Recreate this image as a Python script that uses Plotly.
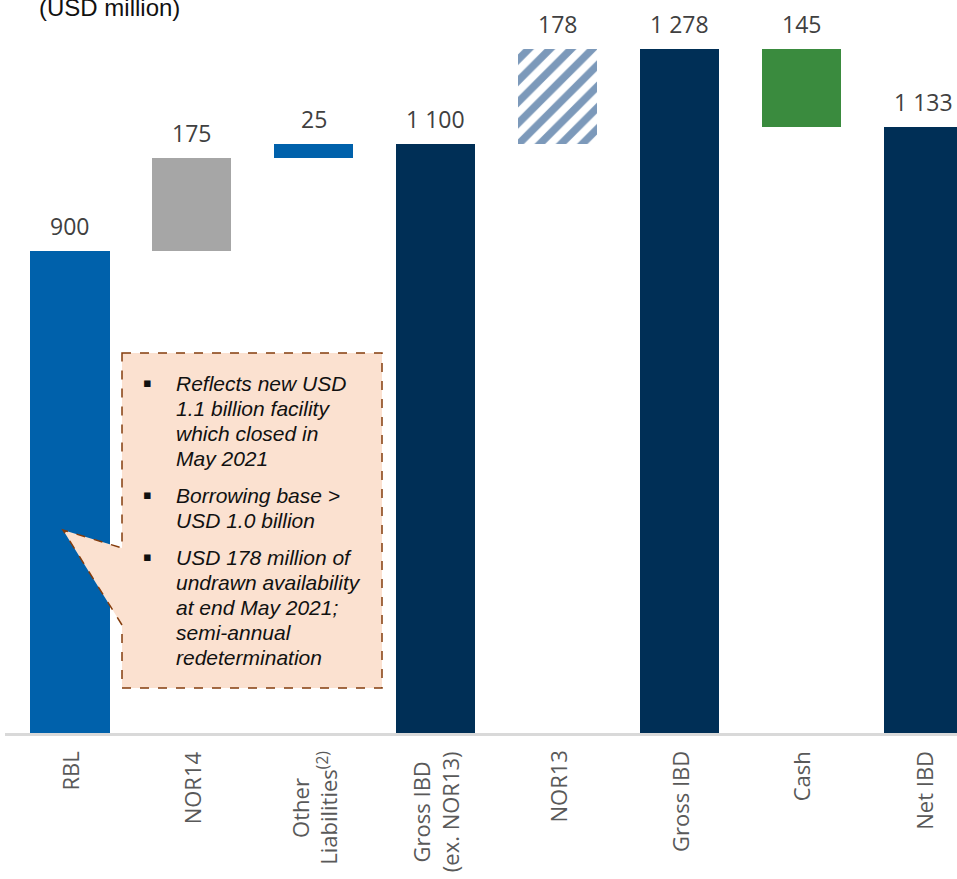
import plotly.graph_objects as go

# Bridge from RBL to net interest-bearing debt (USD million)
categories = ["RBL", "NOR14", "Other<br>Liabilities<sup>(2)</sup>", "Gross IBD<br>(ex. NOR13)",
              "NOR13", "Gross IBD", "Cash", "Net IBD"]
values = [900, 175, 25, 1100, 178, 1278, 145, 1133]
steps = ["total", "up", "up", "total", "up", "total", "down", "total"]
colors = ["#0061AB", "#A6A6A6", "#0061AB", "#002F56", "#7C99BA", "#002F56", "#3A8B3E", "#002F56"]
hatched = [False, False, False, False, True, False, False, False]

callout_lines = [
    ["Reflects new USD", "1.1 billion facility", "which closed in", "May 2021"],
    ["Borrowing base >", "USD 1.0 billion"],
    ["USD 178 million of", "undrawn availability", "at end May 2021;", "semi-annual", "redetermination"],
]

W, H = 957, 879
ML, MR, MT, MB = 5, 0, 0, 146
X0, X1 = -0.533, 7.277
Y0, Y1 = 0, 1370
PW, PH = W - ML - MR, H - MT - MB


def px_to_x(px):
    return X0 + (px - ML) / PW * (X1 - X0)


def py_to_y(py):
    return Y0 + (H - MB - py) / PH * (Y1 - Y0)


# floating bases for the waterfall steps
bases, running = [], 0
for v, s in zip(values, steps):
    if s == "total":
        bases.append(0)
        running = v
    elif s == "up":
        bases.append(running)
        running += v
    else:
        running -= v
        bases.append(running)

xs = list(range(len(categories)))
solid = [i for i in xs if not hatched[i]]
striped = [i for i in xs if hatched[i]]

fig = go.Figure()
fig.add_trace(go.Bar(
    x=[xs[i] for i in solid], y=[values[i] for i in solid], base=[bases[i] for i in solid],
    width=0.65, marker=dict(color=[colors[i] for i in solid], line=dict(width=0)),
    hoverinfo="skip", showlegend=False,
))
fig.add_trace(go.Bar(
    x=[xs[i] for i in striped], y=[values[i] for i in striped], base=[bases[i] for i in striped],
    width=0.65,
    marker=dict(color="#FFFFFF", line=dict(width=0),
                pattern=dict(shape="/", fgcolor=colors[striped[0]], bgcolor="#FFFFFF",
                             fgopacity=1, size=15, solidity=0.5, fillmode="overlay")),
    hoverinfo="skip", showlegend=False,
))

annotations = []
# value labels above each bar
for x, v, b in zip(xs, values, bases):
    annotations.append(dict(
        x=x, y=b + v, xref="x", yref="y", text=f"{v:,}".replace(",", " "),
        showarrow=False, yanchor="middle", yshift=25,
        font=dict(family="Open Sans", size=23, color="#404040"),
    ))

# category labels, rotated
for x, c in zip(xs, categories):
    annotations.append(dict(
        x=x, y=0, xref="x", yref="paper", text=c, textangle=-90,
        showarrow=False, xanchor="center", yanchor="top", yshift=-16, align="center",
        font=dict(family="Open Sans", size=22, color="#595959"),
    ))

# unit note
annotations.append(dict(
    x=px_to_x(37), y=py_to_y(7), xref="x", yref="y", text="(USD million)",
    showarrow=False, xanchor="left", yanchor="middle",
    font=dict(family="Liberation Sans", size=24, color="#111111"),
))

# callout box with bullet notes
shapes = [dict(
    type="path", xref="x", yref="y", layer="above",
    path=(f"M {px_to_x(122)},{py_to_y(353)} L {px_to_x(382)},{py_to_y(353)} "
          f"L {px_to_x(382)},{py_to_y(688)} L {px_to_x(122)},{py_to_y(688)} "
          f"L {px_to_x(122)},{py_to_y(625)} L {px_to_x(63)},{py_to_y(530)} "
          f"L {px_to_x(122)},{py_to_y(548)} Z"),
    fillcolor="#FBE1D0", line=dict(color="#843C0C", width=1.5, dash="dash"),
)]

line_y = 383
for para in callout_lines:
    annotations.append(dict(
        x=px_to_x(141), y=py_to_y(line_y - 1), xref="x", yref="y", text="▪",
        showarrow=False, xanchor="left", yanchor="middle",
        font=dict(family="DejaVu Sans", size=13, color="#111111"),
    ))
    for ln in para:
        annotations.append(dict(
            x=px_to_x(174), y=py_to_y(line_y), xref="x", yref="y", text=f"<i>{ln}</i>",
            showarrow=False, xanchor="left", yanchor="middle",
            font=dict(family="Liberation Sans", size=21, color="#111111"),
        ))
        line_y += 25
    line_y += 12

fig.update_layout(
    width=W, height=H,
    margin=dict(l=ML, r=MR, t=MT, b=MB, pad=0),
    paper_bgcolor="white", plot_bgcolor="white",
    xaxis=dict(range=[X0, X1], showticklabels=False, showgrid=False, zeroline=False,
               ticks="", showline=True, linecolor="#D9D9D9", linewidth=3),
    yaxis=dict(range=[Y0, Y1], visible=False, showgrid=False, zeroline=False),
    annotations=annotations, shapes=shapes, bargap=0, barmode="overlay",
)

fig.write_html("out.html")
